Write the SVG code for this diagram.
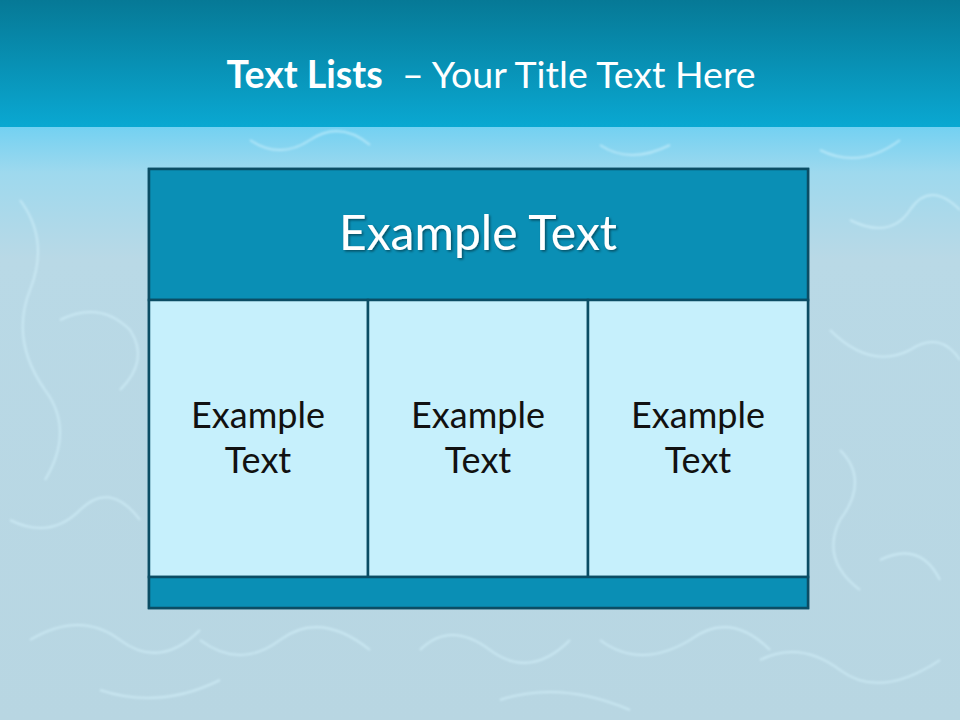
<svg xmlns="http://www.w3.org/2000/svg" width="960" height="720" viewBox="0 0 960 720">
<defs>
<linearGradient id="topband" x1="0" y1="0" x2="0" y2="1">
<stop offset="0" stop-color="#067996"/>
<stop offset="1" stop-color="#0aa8d2"/>
</linearGradient>
<linearGradient id="water" x1="0" y1="0" x2="0" y2="720" gradientUnits="userSpaceOnUse">
<stop offset="0.17" stop-color="#6fd0f2"/>
<stop offset="0.24" stop-color="#9ed9ee"/>
<stop offset="0.36" stop-color="#b9d9e6"/>
<stop offset="1" stop-color="#b8d6e2"/>
</linearGradient>
<filter id="sh" x="-10%" y="-10%" width="120%" height="140%">
<feDropShadow dx="1.5" dy="1.5" stdDeviation="1" flood-color="#000" flood-opacity="0.45"/>
</filter>
<filter id="blur"><feGaussianBlur stdDeviation="1.2"/></filter>
<style>
.frame{stroke:#0b4d64;stroke-width:2.5}
.head{fill:#0a8fb5}
.cell{fill:#c6f0fc}
.ct{font-family:Lato,"Open Sans",sans-serif;font-size:36px;fill:#111;text-anchor:middle}
.caus{fill:none;stroke:#d8f6ff;stroke-opacity:0.55;stroke-width:2}
</style>
</defs>
<rect x="0" y="0" width="960" height="720" fill="url(#water)"/>
<g class="caus" filter="url(#blur)">
<path d="M20 200 q30 40 10 90 q-20 50 15 100 q30 40 0 90"/>
<path d="M60 320 q40 -20 70 10 q20 30 -10 60"/>
<path d="M850 220 q40 20 60 -10 q20 -30 50 0"/>
<path d="M830 330 q40 40 80 20 q30 -20 50 10"/>
<path d="M840 450 q30 30 0 70 q-20 40 20 70"/>
<path d="M880 560 q40 -20 60 20"/>
<path d="M10 520 q40 20 70 -10 q30 -30 60 10"/>
<path d="M30 640 q50 -30 90 0 q40 30 80 -10"/>
<path d="M200 640 q40 30 80 0 q40 -30 90 10"/>
<path d="M420 650 q30 -30 70 0 q40 30 80 -10"/>
<path d="M600 640 q40 30 90 0 q40 -30 80 10"/>
<path d="M760 660 q40 -20 80 10 q40 30 100 -10"/>
<path d="M100 690 q60 20 120 -10"/>
<path d="M500 700 q60 -20 130 10"/>
<path d="M250 140 q30 20 60 0 q30 -20 60 5"/>
<path d="M600 145 q30 20 70 0"/>
<path d="M820 150 q40 20 80 -10"/>
</g>
<rect x="0" y="0" width="960" height="127" fill="url(#topband)"/>
<g id="title">
<text x="491" y="88" text-anchor="middle" font-family="Lato,'Open Sans',sans-serif" font-size="37.5" fill="#ffffff"><tspan font-weight="bold">Text Lists</tspan><tspan xml:space="preserve">  – Your Title Text Here</tspan></text>
</g>
<g id="frame">
<rect class="head frame" x="149" y="169" width="659" height="439"/>
</g>
<g id="header">
<rect class="head frame" x="149" y="169" width="659" height="131"/>
<text x="478" y="250" text-anchor="middle" font-family="Lato,'Open Sans',sans-serif" font-size="48" fill="#ffffff" filter="url(#sh)">Example Text</text>
</g>
<g id="cell1">
<rect class="cell frame" x="149" y="300" width="219" height="277"/>
<text class="ct" x="258" y="428">Example</text>
<text class="ct" x="258" y="473">Text</text>
</g>
<g id="cell2">
<rect class="cell frame" x="368" y="300" width="220" height="277"/>
<text class="ct" x="478" y="428">Example</text>
<text class="ct" x="478" y="473">Text</text>
</g>
<g id="cell3">
<rect class="cell frame" x="588" y="300" width="220" height="277"/>
<text class="ct" x="698" y="428">Example</text>
<text class="ct" x="698" y="473">Text</text>
</g>
<g id="footer">
<rect class="head frame" x="149" y="577" width="659" height="31"/>
</g>
</svg>
